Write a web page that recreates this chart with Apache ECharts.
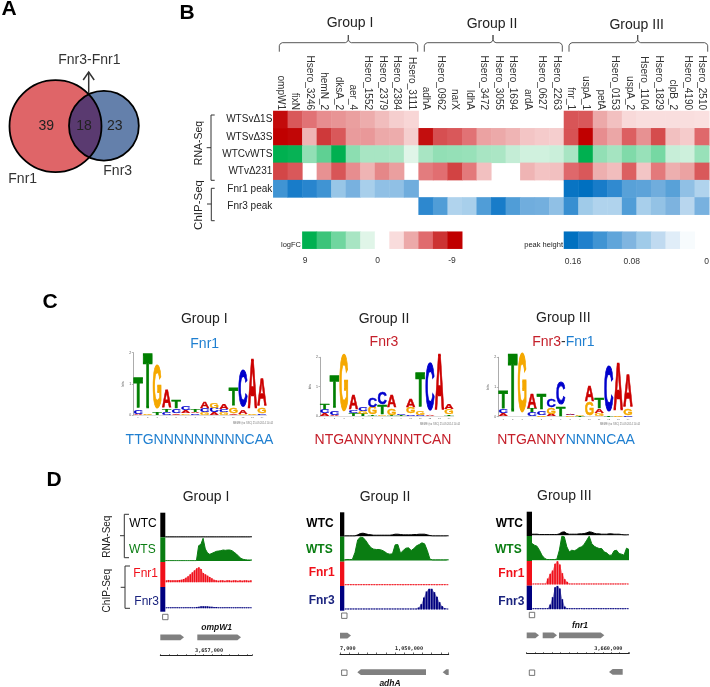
<!DOCTYPE html>
<html><head><meta charset="utf-8">
<style>html,body{margin:0;padding:0;background:#fff}#c{width:710px;height:687px}</style>
<script src="https://cdn.jsdelivr.net/npm/echarts@6/dist/echarts.min.js"></script>
</head><body><div id="c"></div>
<script>
// ---------- A: Venn counts
const vennCounts = [39, 23, 18];
// ---------- B: heat map
const groupLabels = ['Group I','Group II','Group III'];
const genes = ['ompW1','fixN','Hsero_3246','hemN_2','dksA_2','aer_4','Hsero_1552','Hsero_2379','Hsero_2384','Hsero_3111',
 'adhA','Hsero_0962','narX','ldhA','Hsero_3472','Hsero_3055','Hsero_1694','ardA','Hsero_0627','Hsero_2263',
 'fnr_1','uspA_1','petA','Hsero_0153','uspA_2','Hsero_1104','Hsero_1829','clpB_2','Hsero_4190','Hsero_2510'];
const rowLabels = ['WTSvΔ1S','WTSvΔ3S','WTCvWTS','WTvΔ231','Fnr1 peak','Fnr3 peak'];
const _ = null;
const wtsD1S = [-8.6,-6,-5.2,-4.4,-4.2,-3.9,-3.5,-2.9,-2.3,-2, _,_,_,_,_,_,_,_,_,_, -6.1,-6,-3.6,-2.8,-1.9,-1.7,-1.7,-1.7,-1.7,-1.6];
const wtsD3S = [-9,-8.8,-3.2,-7,-6,-4,-4.1,-3.6,-3.5,-2.3, -8.5,-6.3,-6,-5.2,-3.8,-3.6,-3.2,-2.6,-2.4,-2.3, -6.2,-9,-4.4,-3.7,-5.8,-4.3,-6.4,-2.8,-2.4,-5.5];
const wtcWts = [9,8.8,4.3,6,9,4.5,3.6,3.6,3.5,1.8, 3.6,4.3,4.2,4.1,3.6,3.5,2.7,2.3,2.3,2.5, 3.6,9,4.3,3.7,4.9,4.1,5.2,2.6,2.4,4.1];
const wtD231 = [-6.6,-6,_,-4.3,-6.1,-4.4,-3.2,-4.6,-3.9,_, -4.9,-5.3,-6.7,-5,-2.8,_,_,-3.2,-2.7,-2.8, -5.5,-6,-3.4,-2.9,-5.8,-2.6,-5,-3.4,-3.8,-6];
const fnr1Peak = [.12,.145,.135,.12,.065,.085,.055,.07,.07,.09, _,_,_,_,_,_,_,_,_,_, .155,.16,.145,.13,.105,.102,.09,.105,.07,.05];
const fnr3Peak = [_,_,_,_,_,_,_,_,_,_, .132,.11,.05,.055,.11,.145,.11,.09,.088,.07, .125,.06,.05,.05,.11,.055,.068,.082,.045,.085];
const logFCBar = [9,7.2,5.4,3.6,1.8,0,-1.8,-3.6,-5.4,-7.2,-9];
const peakBar = [.16,.14,.12,.10,.08,.06,.04,.02,.005];
// ---------- C: sequence logos, each position is bottom-to-top [letter, bits]
const logoI = [[['A',.03],['C',.12],['T',1.0]],[['G',.05],['T',1.77]],[['T',.1],['G',1.4]],[['C',.1],['T',.1],['A',.55]],[['A',.05],['C',.13],['T',.27]],[['G',.04],['A',.1],['C',.13]],[['C',.05],['A',.03],['T',.08]],[['G',.07],['C',.13],['A',.22]],[['A',.07],['C',.15],['G',.16]],[['G',.07],['C',.1],['A',.16]],[['A',.05],['G',.19],['T',.55]],[['G',.03],['A',.13],['C',1.18]],[['G',.05],['A',1.6]],[['C',.03],['G',.19],['A',.88]]];
const logoII = [[['A',.1],['C',.13],['T',.2]],[['A',.03],['C',.13],['T',1.1]],[['G',1.95]],[['T',.08],['C',.1],['A',.5]],[['T',.07],['G',.07],['C',.13]],[['T',.03],['G',.25],['C',.3]],[['G',.03],['T',.33],['C',.43]],[['T',.02],['G',.22],['A',.42]],[['T',.02],['C',.02]],[['C',.06],['G',.22],['A',.25]],[['C',.03],['G',.15],['T',1.2]],[['A',.03],['C',1.62]],[['A',1.93]],[['T',.06],['G',.17],['A',.17]]];
const logoIII = [[['A',.1],['C',.13],['T',.6]],[['T',1.98]],[['G',1.97]],[['C',.13],['T',.11],['A',.5]],[['G',.05],['C',.15],['T',.52]],[['A',.08],['G',.2],['C',.28]],[['T',.33],['C',.79]],[['G',.04],['C',.03],['A',.03]],[['T',.03],['G',.03]],[['G',.45],['A',.52]],[['G',.1],['A',.15],['T',.34]],[['T',.03],['C',1.54]],[['G',.05],['A',1.6]],[['C',.02],['G',.22],['A',1.08]]];
// ---------- D: coverage tracks (40 samples across each window)
const wtcI  = [1,1,1,1,1,1,1,1,1,1,1,1,1,1,1,1,1,1,1,1,1,1,1,1,1,1,1,1,1,1,1,1,1,1,1,1,1,1,1,1];
const wtsI  = [1,1,1,1,1,1,1,1,1,1,1,1,1,1,1,46,50,68,36,24,20,23,26,29,30,31,33,32,33,33,31,26,21,14,8,5,4,3,3,3];
const fnr1I = [6,7,6,6,6,6,7,8,10,14,18,24,30,36,42,45,40,28,24,20,16,12,8,6,5,6,6,5,6,6,5,6,6,5,6,5,6,6,5,6];
const fnr3I = [3,3,3,3,3,3,3,3,3,3,3,3,3,3,4,5,6,6,6,6,5,5,4,4,3,3,3,3,3,3,3,3,3,3,3,3,3,3,3,3];
const wtcII = [1,1,1,1,1,4,8,9,7,5,4,3,3,3,3,3,3,3,4,6,6,5,4,4,4,4,5,5,6,6,6,4,2,1,1,1,1,1,1,1];
const wtsII = [2,3,3,3,24,62,70,69,60,48,38,34,33,33,31,27,21,19,20,47,48,22,30,37,38,30,36,44,48,53,50,30,4,2,2,2,2,2,2,2];
const fnr1II= [3,3,3,3,3,3,3,3,3,3,3,3,3,3,3,3,3,3,3,3,3,3,3,3,3,3,3,3,3,3,3,3,3,3,3,3,3,3,3,3];
const fnr3II= [3,3,3,3,3,3,3,3,3,3,3,3,3,3,3,3,3,3,3,3,3,3,3,3,3,3,3,3,6,16,36,54,62,62,52,38,22,10,4,3];
const wtcIII= [3,3,3,2,2,2,2,2,2,2,2,4,9,10,5,3,3,3,3,4,4,5,7,10,9,6,4,4,3,3,3,4,4,3,3,3,2,1,1,1];
const wtsIII= [50,45,42,30,15,6,2,2,2,2,3,30,72,70,40,25,30,28,32,38,40,48,60,72,50,42,38,35,35,25,22,15,15,28,30,20,18,15,36,32];
const fnr1III=[3,3,3,3,3,3,18,32,42,62,70,60,34,16,8,3,3,3,3,3,3,3,3,3,3,3,3,3,3,3,3,3,3,3,3,3,3,3,3,3];
const fnr3III=[3,3,3,3,3,3,3,14,36,66,70,62,30,8,3,3,3,3,3,3,3,3,3,3,3,3,3,3,3,3,3,3,3,3,3,3,3,3,3,3];
// gene models: [start, end, strand]
const genesTopI  = [[3655000,3656366,1],[3657133,3659651,1]];
const genesTopII = [[1047000,1047600,1]];
const genesLowII = [[1047944,1051691,-1],[1052603,1052930,-1]];
const genesTopIII= [[3656000,3656728,1],[3656947,3657793,1],[3657911,3660592,1]];
const genesLowIII= [[3660870,3661680,-1]];

const FONT = '"Liberation Sans", Arial, sans-serif';
const BLACK='#000', GREEN='#0a7d12', RED='#f0101a', NAVY='#00007f';

const grids=[], xAxes=[], yAxes=[], series=[], gfx=[];
function addGrid(left,top,w,h,x,y){
  grids.push({left,top,width:w,height:h,containLabel:false});
  const i=grids.length-1;
  xAxes.push(Object.assign({gridIndex:i},x)); yAxes.push(Object.assign({gridIndex:i},y));
  return i;
}
const hidden={show:false};
// ---- graphics helpers
function T(text,x,y,size,fill,o){o=o||{};
  gfx.push({type:'text',silent:true,x,y,rotation:o.rot||0,z:50,style:{text,x:0,y:0,fill:fill||'#222',
    font:(o.w?o.w+' ':'')+size+'px '+FONT,align:o.align||'center',verticalAlign:'middle',rich:o.rich}});
}
function L(points,stroke,w){gfx.push({type:'polyline',silent:true,z:40,shape:{points},style:{stroke:stroke||'#333',lineWidth:w||1,fill:null}});}
function R(x,y,w,h,fill){gfx.push({type:'rect',silent:true,z:40,shape:{x,y,width:w,height:h},style:{fill}});}
function curly(Lx,Rx,A,yb,yt,ya){L([[Lx,yb],[Lx,yt+3],[Lx+1,yt+1],[Lx+3,yt],[A-3,yt],[A-1,yt-1],[A,yt-3],[A,ya],[A,yt-3],[A+1,yt-1],[A+3,yt],[Rx-3,yt],[Rx-1,yt+1],[Rx,yt+3],[Rx,yb]],'#444',.9);}
function sideBracket(x,y0,y1,hook,tick,ym){L([[hook,y0],[x,y0],[x,y1],[hook,y1]],'#333',1);L([[tick,ym],[x,ym]],'#333',1);}
function icon(cx,cy){gfx.push({type:'rect',silent:true,z:41,shape:{x:cx-2.7,y:cy-2.7,width:5.4,height:5.4},style:{fill:'#fff',stroke:'#666',lineWidth:.9}});L([[cx-1.6,cy],[cx+1.6,cy]],'#666',.8);}

// ---- A: Venn
const C1={x:55.5,y:126.2,r:46}, C3={x:103.9,y:125.7,r:34.9};
function lensPoints(){
  const dx=C3.x-C1.x,dy=C3.y-C1.y,d=Math.hypot(dx,dy);
  const a=(C1.r*C1.r-C3.r*C3.r+d*d)/(2*d),h=Math.sqrt(C1.r*C1.r-a*a);
  const mx=C1.x+a*dx/d,my=C1.y+a*dy/d;
  const p1=[mx+h*dy/d,my-h*dx/d],p2=[mx-h*dy/d,my+h*dx/d];
  const arc=(c,p,q)=>{const out=[];let s=Math.atan2(p[1]-c.y,p[0]-c.x),e=Math.atan2(q[1]-c.y,q[0]-c.x);
    if(e<s)e+=2*Math.PI;
    for(let i=0;i<=40;i++){const t=s+(e-s)*i/40;out.push([c.x+c.r*Math.cos(t),c.y+c.r*Math.sin(t)]);}return out;};
  return {pts:arc(C1,p1,p2).concat(arc(C3,p2,p1))};
}
const lens=lensPoints();
function vennItem(params,api){
  const n=String(api.value(0)), i=params.dataIndex, st=(x,y)=>({type:'text',style:{text:n,x,y,fill:'#222',font:'14px '+FONT,align:'center',verticalAlign:'middle'},z2:5});
  if(i===0) return {type:'group',children:[{type:'circle',shape:{cx:C1.x,cy:C1.y,r:C1.r},style:{fill:'#df6568'}},st(46.3,126)]};
  if(i===1) return {type:'group',children:[{type:'circle',shape:{cx:C3.x,cy:C3.y,r:C3.r},style:{fill:'#6480ab'}},st(114.7,126)]};
  return {type:'group',children:[
    {type:'polygon',shape:{points:lens.pts},style:{fill:'#5a3a70'}},
    {type:'circle',shape:{cx:C1.x,cy:C1.y,r:C1.r},style:{fill:null,stroke:'#000',lineWidth:1.8}},
    {type:'circle',shape:{cx:C3.x,cy:C3.y,r:C3.r},style:{fill:null,stroke:'#000',lineWidth:1.8}},
    st(84,126)]};
}
series.push({type:'custom',coordinateSystem:'none',silent:true,renderItem:vennItem,data:vennCounts.map(v=>[v]),z:3});
L([[88.7,93],[88.7,72]],'#333',1.5); L([[83.2,80],[88.7,72],[94.2,80]],'#333',1.5);
T('Fnr3-Fnr1',89.3,60,14,'#333'); T('Fnr1',22.7,179,14,'#333'); T('Fnr3',117.7,171,14,'#333');
T('A',9,9.5,21,'#000',{w:'bold'}); T('B',187,13,21,'#000',{w:'bold'}); T('C',50,302,21,'#000',{w:'bold'}); T('D',54,480,21,'#000',{w:'bold'});

// ---- B: heat map
const HX=273.3, HW=436;
const heatGrid=addGrid(HX,111,HW,103.7,
 {type:'category',position:'top',data:genes,axisLine:hidden,axisTick:hidden,splitLine:hidden,
  axisLabel:{interval:0,rotate:90,margin:1,fontSize:10,color:'#333',fontFamily:FONT}},
 {type:'category',inverse:true,data:rowLabels,axisLine:hidden,axisTick:hidden,splitLine:hidden,
  axisLabel:{interval:0,margin:1,fontSize:10,color:'#222',fontFamily:FONT}});
const cells=(arr,r)=>arr.map((v,c)=>v===null?null:[c,r,v]).filter(Boolean);
const logData=[].concat(cells(wtsD1S,0),cells(wtsD3S,1),cells(wtcWts,2),cells(wtD231,3));
const peakData=[].concat(cells(fnr1Peak,4),cells(fnr3Peak,5));
series.push({type:'heatmap',xAxisIndex:heatGrid,yAxisIndex:heatGrid,data:logData,silent:true,z:2});  // index 1
series.push({type:'heatmap',xAxisIndex:heatGrid,yAxisIndex:heatGrid,data:peakData,silent:true,z:2}); // index 2
const barGrid=addGrid(HX,231.7,HW,17,
 {type:'category',data:genes,show:false},{type:'category',data:['bar'],show:false});
series.push({type:'heatmap',xAxisIndex:barGrid,yAxisIndex:barGrid,silent:true,data:logFCBar.map((v,i)=>[i+2,0,v])}); // 3
series.push({type:'heatmap',xAxisIndex:barGrid,yAxisIndex:barGrid,silent:true,data:peakBar.map((v,i)=>[i+20,0,v])}); // 4
const visualMap=[
 {show:false,seriesIndex:[1,3],dimension:2,min:-9,max:9,inRange:{color:['#c00000','#cc3333','#e06b6e','#eca9a9','#f9dcdc','#ffffff','#e0f5e8','#a8e5c3','#70d69f','#3cc47a','#00b050']}},
 {show:false,seriesIndex:[2,4],dimension:2,min:0,max:.16,inRange:{color:['#ffffff','#e0edf8','#c0daf0','#a0cbe9','#80b5e0','#60a5da','#4094d3','#2080cc','#0070c0']}}
];
T('Group I',350,23,14,'#222'); T('Group II',492,24,14,'#222'); T('Group III',636.7,25,14,'#222');
curly(279.3,417.7,348.3,51.7,42.7,35); curly(424.3,562.3,493,51.7,42.7,35); curly(569,707.7,637.7,51.7,42.7,35);
sideBracket(211,115,180.3,214.7,206.7,147.7); sideBracket(211.3,188.3,220.7,214.7,207,204);
T('RNA-Seq',199.3,143,10.5,'#222',{rot:Math.PI/2}); T('ChIP-Seq',199.3,205,11.5,'#222',{rot:Math.PI/2});
T('logFC',301,245,7.5,'#222',{align:'right'}); T('peak height',563,245.3,7.5,'#222',{align:'right'});
T('9',305,261,8.5,'#333'); T('0',377.7,261,8.5,'#333'); T('-9',452,261,8.5,'#333');
T('0.16',573,261.5,8.5,'#333'); T('0.08',631.7,261.5,8.5,'#333'); T('0',706.7,261.5,8.5,'#333');

// ---- C: logos
const logoColor={A:'#cc0000',C:'#0000cc',G:'#f5a800',T:'#007f00'}, glyphW={A:.722,C:.722,G:.778,T:.611}, LETTERS='ACGT';
function renderLogo(params,api){
  const ch=LETTERS[api.value(3)], p0=api.coord([api.value(0),api.value(1)]), p1=api.coord([api.value(0),api.value(2)]);
  const bw=api.size([1,0])[0], fs=20;
  return {type:'text',x:p0[0],y:(p0[1]+p1[1])/2,scaleX:bw*.98/(glyphW[ch]*fs),scaleY:Math.abs(p0[1]-p1[1])/(.73*fs),
    style:{text:ch,x:0,y:0,font:'bold '+fs+'px '+FONT,fill:logoColor[ch],stroke:logoColor[ch],lineWidth:.7,align:'center',verticalAlign:'middle'}};
}
function addLogo(logo,left,top,w,h,tag,footX){
  const cats=logo.map((_,i)=>String(i+1));
  const g=addGrid(left,top,w,h,
   {type:'category',data:cats,axisLine:{lineStyle:{color:'#bbb',width:.5}},axisTick:{length:1.5,lineStyle:{color:'#999',width:.5}},
    axisLabel:{interval:0,fontSize:2.5,margin:1,color:'#666'}},
   {type:'value',min:0,max:2,interval:1,splitLine:hidden,name:'bits',nameLocation:'middle',nameGap:5,nameTextStyle:{fontSize:3.5,color:'#555'},
    axisLine:{show:true,lineStyle:{color:'#888',width:.7}},axisTick:{show:true,length:1.5,lineStyle:{color:'#888',width:.6}},
    axisLabel:{fontSize:3.5,margin:2,color:'#555'}});
  const items=[];
  logo.forEach((stack,pos)=>{let b=0;stack.forEach(([ch,bits])=>{items.push([pos,b,b+bits,LETTERS.indexOf(ch)]);b+=bits;});});
  series.push({type:'custom',xAxisIndex:g,yAxisIndex:g,silent:true,renderItem:renderLogo,data:items,clip:false,encode:{x:0,y:[1,2]}});
  T(tag,footX,top+h+8,2.6,'#777');
}
const footerTag='MEME (no SSC) 25.09.2014 14:44';
addLogo(logoI,133.3,352.7,133.4,62.3,footerTag,253);
addLogo(logoII,320,357.3,133.7,58.7,footerTag,440);
addLogo(logoIII,498.3,357.3,134.4,59.4,footerTag,620);
T('Group I',204.3,319.3,14,'#222'); T('Group II',384,319,14,'#222'); T('Group III',563.3,318,14,'#222');
const BL='#1f7fd0', RD='#c5202b';
T('Fnr1',204.7,343.7,14,BL); T('Fnr3',384,342,14,RD);
T('{a|Fnr3}{b|-}{c|Fnr1}',563.3,342,14,'#222',{rich:{a:{fill:RD,font:'14px '+FONT},b:{fill:'#333',font:'14px '+FONT},c:{fill:BL,font:'14px '+FONT}}});
T('TTGNNNNNNNNNCAA',199.5,440,14,BL); T('NTGANNYNNNTCAN',383,440,14,RD);
T('NTGANNY',565.7,440,14,RD,{align:'right'}); T('NNNNCAA',565.7,440,14,BL,{align:'left'});

// ---- D: tracks
function lineTrack(vals,left,w,base,color){
  const g=addGrid(left,base-24.67,w,24.67,
    {type:'category',boundaryGap:false,data:vals.map((_,i)=>i),show:false},{type:'value',min:0,max:74,show:false});
  series.push({type:'line',xAxisIndex:g,yAxisIndex:g,data:vals,silent:true,showSymbol:false,symbol:'none',lineStyle:{color,width:1},itemStyle:{color},areaStyle:{color,opacity:1}});
}
function barTrack(vals,left,w,base,color){
  const g=addGrid(left,base-24.67,w,24.67,
    {type:'category',data:vals.map((_,i)=>i),show:false},{type:'value',min:0,max:74,show:false});
  series.push({type:'line',xAxisIndex:g,yAxisIndex:g,data:vals,silent:true,showSymbol:false,symbol:'none',lineStyle:{width:0},itemStyle:{color},areaStyle:{color,opacity:.45}});
  series.push({type:'bar',xAxisIndex:g,yAxisIndex:g,data:vals,silent:true,barCategoryGap:'30%',itemStyle:{color}});
}
function geneItem(p,api){
  const a=api.coord([api.value(0),api.value(3)]), b=api.coord([api.value(1),api.value(3)]), s=api.value(2), h=2.9, tip=3.6, y=a[1];
  const pts=s>0?[[a[0],y-h],[b[0]-tip,y-h],[b[0],y],[b[0]-tip,y+h],[a[0],y+h]]
               :[[b[0],y-h],[a[0]+tip,y-h],[a[0],y],[a[0]+tip,y+h],[b[0],y+h]];
  return {type:'polygon',shape:{points:pts},style:{fill:'#808080'}};
}
function column(stripX,stripW,tops,trackW,bases,data,top,low,axis,gLeft,gW,axisY){
  const colors=[BLACK,GREEN,RED,NAVY];
  for(let i=0;i<4;i++) R(stripX,tops[i],stripW,tops[i+1]-tops[i],colors[i]);
  const left=stripX+stripW;
  lineTrack(data[0],left,trackW,bases[0],BLACK);
  lineTrack(data[1],left,trackW,bases[1],GREEN);
  barTrack(data[2],left,trackW,bases[2],RED);
  barTrack(data[3],left,trackW,bases[3],NAVY);
  const g=addGrid(gLeft,axisY-26,gW,26,
   {type:'value',min:axis.min,max:axis.max,interval:500,position:'bottom',splitLine:hidden,
    axisLine:{show:true,onZero:false,lineStyle:{color:'#222',width:1}},axisTick:{show:true,inside:true,length:1.5,lineStyle:{color:'#222',width:.7}},
    axisLabel:{inside:true,margin:2.5,fontSize:5.2,fontWeight:'bold',fontFamily:'"DejaVu Sans Mono", monospace',color:'#222',align:'left',showMinLabel:true,
      formatter:v=>axis.labels[v]||''}},
   {type:'value',min:0,max:26,show:false});
  series.push({type:'custom',xAxisIndex:g,yAxisIndex:g,silent:true,clip:false,data:top.map(d=>[d[0],d[1],d[2],18.4]),encode:{x:[0,1],y:3},renderItem:geneItem});
  if(low.length){
    const g2=addGrid(gLeft,axisY,gW,26,{type:'value',min:axis.min,max:axis.max,show:false},{type:'value',min:-26,max:0,show:false});
    series.push({type:'custom',xAxisIndex:g2,yAxisIndex:g2,silent:true,clip:false,data:low.map(d=>[d[0],d[1],d[2],-18.2]),encode:{x:[0,1],y:3},renderItem:geneItem});
  }
}
// column I
column(160.3,5,[512.7,537.3,562,587,611.7],86.7,[537.2,561,582.3,608.3],[wtcI,wtsI,fnr1I,fnr3I],genesTopI,[],
 {min:3655000,max:3660285,labels:{3657000:'3,657,000'}},160.3,91.7,655.7);
// column II
column(340,4.3,[512.3,536.7,561.7,586,610.7],104.4,[536.2,560.5,585.2,609.5],[wtcII,wtsII,fnr1II,fnr3II],genesTopII,genesLowII,
 {min:1047000,max:1052930,labels:{1047000:'7,000',1050000:'1,050,000'}},340,108.7,654);
// column III
column(526.7,5.3,[511.7,536,561,585.7,610],97,[535.2,560.2,584.5,609.2],[wtcIII,wtsIII,fnr1III,fnr3III],genesTopIII,genesLowIII,
 {min:3656000,max:3662053,labels:{3660000:'3,660,000'}},526.7,102.3,653.7);
T('Group I',206,497,14,'#222'); T('Group II',385,496.7,14,'#222'); T('Group III',564.3,496,14,'#222');
T('WTC',143,523.3,12,BLACK); T('WTS',142.3,549.3,12,GREEN); T('Fnr1',145.7,573.3,12,RED); T('Fnr3',146.7,601.7,12,'#1a237e');
T('WTC',320,523.3,12,BLACK,{w:'bold'}); T('WTS',319.3,549.3,12,GREEN,{w:'bold'}); T('Fnr1',321.7,572.7,12,RED,{w:'bold'}); T('Fnr3',321.7,601,12,'#1a237e',{w:'bold'});
T('WTC',509.3,523.3,12,BLACK,{w:'bold'}); T('WTS',508.3,550,12,GREEN,{w:'bold'}); T('Fnr1',511.3,573.3,12,RED,{w:'bold'}); T('Fnr3',511.3,601.7,12,'#1a237e',{w:'bold'});
sideBracket(124.3,514.3,557.7,129,120,535.7); sideBracket(125,566,608.3,130,120.7,587.3);
T('RNA-Seq',107.3,536.7,10,'#222',{rot:Math.PI/2}); T('ChIP-Seq',107.3,590.7,10,'#222',{rot:Math.PI/2});
T('ompW1',216.7,627.7,8.5,'#111',{w:'italic bold'}); T('adhA',390,684,8.5,'#111',{w:'italic bold'}); T('fnr1',580,626,8.5,'#111',{w:'italic bold'});
icon(165.3,617); icon(344.3,615.7); icon(344.3,672.7); icon(532,615); icon(532,672.7);

const chart=echarts.init(document.getElementById('c'),null,{renderer:'canvas'});
chart.setOption({animation:false,backgroundColor:'#fff',textStyle:{fontFamily:FONT},tooltip:{show:false},
  grid:grids,xAxis:xAxes,yAxis:yAxes,visualMap,series,graphic:{elements:gfx}});
</script></body></html>
